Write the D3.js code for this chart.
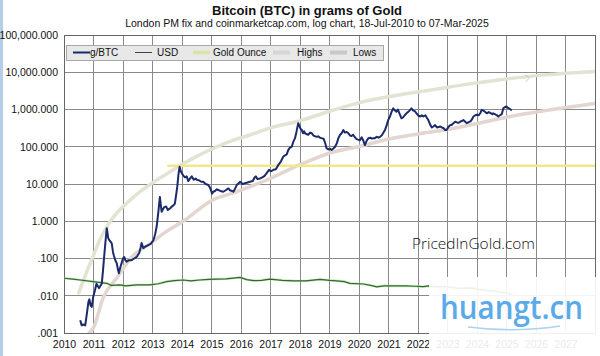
<!DOCTYPE html>
<html><head><meta charset="utf-8">
<script src="https://cdn.jsdelivr.net/npm/d3@7/dist/d3.min.js"></script>
<style>html,body{margin:0;padding:0;background:#fff;}svg{display:block;}</style>
</head><body>
<script>
// ---- data ----
const btcYears = [2010.55,2010.60,2010.65,2010.72,2010.78,2010.83,2010.86,2010.90,2010.94,2010.99,2011.05,2011.10,2011.15,2011.19,2011.24,2011.28,2011.32,2011.36,2011.40,2011.45,2011.48,2011.50,2011.55,2011.60,2011.62,2011.66,2011.69,2011.74,2011.79,2011.83,2011.86,2011.90,2011.95,2012.00,2012.04,2012.08,2012.12,2012.20,2012.29,2012.38,2012.46,2012.55,2012.60,2012.63,2012.69,2012.76,2012.86,2012.95,2013.03,2013.09,2013.14,2013.20,2013.25,2013.28,2013.31,2013.34,2013.40,2013.46,2013.52,2013.59,2013.66,2013.72,2013.76,2013.80,2013.84,2013.88,2013.92,2013.96,2014.04,2014.10,2014.16,2014.21,2014.27,2014.33,2014.40,2014.46,2014.50,2014.58,2014.65,2014.72,2014.80,2014.89,2014.95,2015.02,2015.06,2015.12,2015.18,2015.23,2015.30,2015.40,2015.48,2015.57,2015.62,2015.70,2015.74,2015.80,2015.86,2015.92,2015.97,2016.05,2016.14,2016.22,2016.30,2016.40,2016.46,2016.50,2016.56,2016.64,2016.72,2016.80,2016.87,2016.95,2017.02,2017.10,2017.18,2017.26,2017.35,2017.43,2017.48,2017.55,2017.60,2017.66,2017.72,2017.78,2017.83,2017.88,2017.94,2017.97,2018.02,2018.06,2018.10,2018.14,2018.17,2018.22,2018.28,2018.34,2018.40,2018.46,2018.52,2018.56,2018.62,2018.68,2018.73,2018.80,2018.86,2018.90,2018.96,2019.02,2019.07,2019.13,2019.19,2019.25,2019.30,2019.36,2019.41,2019.47,2019.52,2019.58,2019.64,2019.70,2019.75,2019.80,2019.86,2019.92,2019.97,2020.03,2020.09,2020.14,2020.20,2020.26,2020.32,2020.38,2020.44,2020.50,2020.54,2020.60,2020.66,2020.71,2020.77,2020.83,2020.88,2020.94,2020.99,2021.05,2021.10,2021.16,2021.21,2021.27,2021.32,2021.38,2021.44,2021.50,2021.55,2021.61,2021.66,2021.72,2021.78,2021.83,2021.89,2021.95,2022.02,2022.08,2022.13,2022.18,2022.25,2022.30,2022.35,2022.42,2022.47,2022.52,2022.58,2022.64,2022.70,2022.76,2022.81,2022.86,2022.92,2022.97,2023.03,2023.09,2023.15,2023.20,2023.26,2023.32,2023.38,2023.45,2023.50,2023.54,2023.60,2023.65,2023.72,2023.78,2023.84,2023.88,2023.94,2024.00,2024.06,2024.12,2024.16,2024.22,2024.28,2024.33,2024.40,2024.46,2024.52,2024.55,2024.62,2024.68,2024.72,2024.78,2024.84,2024.89,2024.94,2025.00,2025.05,2025.10,2025.14,2025.18];
const btcGrams = [0.0022,0.0016,0.0017,0.0016,0.0035,0.0070,0.0080,0.0055,0.0050,0.0093,0.014,0.021,0.018,0.016,0.019,0.021,0.045,0.11,0.25,0.65,0.45,0.35,0.30,0.27,0.25,0.15,0.12,0.09,0.074,0.05,0.04,0.055,0.074,0.10,0.11,0.09,0.082,0.09,0.09,0.10,0.11,0.14,0.20,0.26,0.19,0.21,0.23,0.25,0.31,0.45,0.71,1.8,4.5,2.8,1.8,2.0,2.4,2.5,2.0,2.2,2.5,2.7,3.0,5,8.5,18,29,22,17,15,16,12,14,16,13,14,13,12.5,11.5,11.5,10,9.4,8,5.5,6.2,6.5,7.2,6.9,6.5,6.2,6.8,7.6,6.8,6.5,6.2,7.5,9.5,10.5,11.5,10,10.5,11,11.5,12,15,16,13.5,14,15,16.5,19.5,24,22,24,25,32,40,54,58,62,81,95,100,140,170,250,430,380,300,280,230,260,230,220,210,240,230,200,190,185,190,175,170,165,120,91,85,88,82,90,100,125,170,210,230,280,240,250,230,200,195,210,180,160,155,150,180,150,110,145,170,175,165,170,170,185,175,185,200,240,280,380,520,650,850,1070,950,870,1000,750,580,620,700,790,850,950,1070,950,900,790,680,650,700,650,700,600,520,380,330,350,380,330,340,350,330,320,280,280,340,380,390,430,470,450,440,480,500,520,470,430,460,480,560,650,700,720,700,820,980,930,860,790,850,800,750,790,740,700,650,700,750,1070,1150,1200,1100,1050,1000,950];

const usdYears = [2010.00,2010.30,2010.55,2010.99,2011.45,2011.60,2011.90,2012.10,2012.46,2012.92,2013.20,2013.48,2013.75,2014.04,2014.30,2014.60,2014.90,2015.18,2015.50,2015.97,2016.20,2016.42,2016.70,2016.98,2017.40,2017.77,2018.20,2018.68,2019.00,2019.24,2019.50,2019.69,2020.15,2020.40,2020.60,2020.85,2021.16,2021.60,2021.90,2022.18,2022.35,2022.60,2022.90,2023.40,2023.80,2024.20,2024.60,2024.90,2025.18];
const usdGrams = [0.0295,0.028,0.0265,0.024,0.0216,0.019,0.0195,0.0185,0.0195,0.0197,0.021,0.024,0.0255,0.0265,0.025,0.0265,0.0275,0.028,0.0285,0.031,0.027,0.0255,0.026,0.028,0.026,0.0252,0.025,0.0275,0.026,0.0252,0.024,0.0216,0.0207,0.019,0.0174,0.0185,0.0183,0.0183,0.018,0.0175,0.0183,0.0175,0.0177,0.0158,0.0162,0.0143,0.0131,0.0122,0.0108];

const goldOunceYears = [2013.5, 2028];
const goldOunceGrams = [31.1035, 31.1035];

const highsYears = [2010.50,2010.75,2010.98,2011.20,2011.45,2011.80,2012.13,2012.55,2013.02,2013.50,2013.90,2014.50,2015.18,2015.75,2016.30,2017.00,2018.00,2019.00,2020.26,2021.40,2022.50,2023.70,2024.80,2026.30,2028.00];
const highsGrams = [0.012,0.04,0.11,0.3,0.71,1.7,3.1,6,11,19,30,55,100,150,207,320,500,900,1700,2500,3400,4800,6300,8500,10500];

const lowsYears = [2010.85,2011.00,2011.33,2011.79,2012.30,2012.92,2013.50,2014.04,2015.06,2015.74,2016.87,2018.00,2019.07,2020.20,2021.00,2022.00,2023.00,2024.00,2025.00,2026.50,2028.00];
const lowsGrams = [0.001,0.0014,0.009,0.03,0.11,0.25,0.55,1.0,3.8,5.8,12.8,33,70,110,160,220,290,420,620,980,1450];

const yearTicks = d3.range(2010, 2028);
const yTicks = [0.001,0.01,0.1,1,10,100,1000,10000,100000];

const title = "Bitcoin (BTC) in grams of Gold";
const subtitle = "London PM fix and coinmarketcap.com, log chart, 18-Jul-2010 to 07-Mar-2025";
const legendItems = [
  {name:"g/BTC", color:"#1b2a6b", w:2},
  {name:"USD", color:"#3a4a3a", w:1},
  {name:"Gold Ounce", color:"#dde3a8", w:3.5},
  {name:"Highs", color:"#d6d6d6", w:4},
  {name:"Lows", color:"#c8c8c8", w:4}
];

// ---- chart ----
const W = 600, H = 356;
const svg = d3.select("body").append("svg").attr("width", W).attr("height", H)
  .style("font-family", "'Liberation Sans', Arial, sans-serif");

svg.append("rect").attr("x",0).attr("y",0).attr("width",3).attr("height",H).attr("fill","#b5cde6");

const x = d3.scaleLinear().domain([2010, 2028]).range([64, 595]);
const y = d3.scaleLog().domain([0.001, 100000]).range([333, 35]);

svg.append("text").attr("x", 307).attr("y", 15).attr("text-anchor","middle")
  .attr("font-size", 13).attr("font-weight","bold").attr("fill","#111").text(title);
svg.append("text").attr("x", 307).attr("y", 27).attr("text-anchor","middle")
  .attr("font-size", 10.5).attr("fill","#111").text(subtitle);

// grid
const grid = svg.append("g");
grid.selectAll("line.v").data(d3.range(2011, 2028)).join("line")
  .attr("x1", d=>x(d)).attr("x2", d=>x(d)).attr("y1", y(100000)).attr("y2", y(0.001))
  .attr("stroke","#8a8a8a").attr("stroke-width",1).attr("shape-rendering","crispEdges");
grid.selectAll("line.h").data(yTicks.slice(1,-1)).join("line")
  .attr("y1", d=>y(d)).attr("y2", d=>y(d)).attr("x1", x(2010)).attr("x2", x(2028))
  .attr("stroke","#8a8a8a").attr("stroke-width",1).attr("shape-rendering","crispEdges");
svg.append("rect").attr("x", x(2010)).attr("y", y(100000))
  .attr("width", x(2028)-x(2010)).attr("height", y(0.001)-y(100000))
  .attr("fill","none").attr("stroke","#666").attr("shape-rendering","crispEdges");

// axes
const fmtY = d => d3.format(",.3f")(d).replace(/^0\./, ".");
const yAxis = d3.axisLeft(y).tickValues(yTicks).tickFormat(fmtY).tickSize(0).tickPadding(6);
const ya = svg.append("g").attr("transform", `translate(${x(2010)},0)`).call(yAxis);
ya.select(".domain").remove();
ya.selectAll("text").attr("font-size", 10.5).attr("fill","#111")
  .attr("font-family","'Liberation Sans', Arial, sans-serif");

const xAxis = d3.axisBottom(x).tickValues(yearTicks).tickFormat(d3.format("d")).tickSize(0).tickPadding(8);
const xa = svg.append("g").attr("transform", `translate(0,${y(0.001)})`).call(xAxis);
xa.select(".domain").remove();
xa.selectAll("text").attr("font-size", 10.5).attr("fill","#111")
  .attr("font-family","'Liberation Sans', Arial, sans-serif");

// clip
svg.append("clipPath").attr("id","plotclip").append("rect")
  .attr("x", x(2010)).attr("y", y(100000)).attr("width", x(2028)-x(2010)).attr("height", y(0.001)-y(100000));
const plot = svg.append("g").attr("clip-path","url(#plotclip)");

const zip = (xs, vs) => xs.map((t,i)=>[t, vs[i]]);
const smooth = d3.line().x(d=>x(d[0])).y(d=>y(d[1])).curve(d3.curveMonotoneX);
const straight = d3.line().x(d=>x(d[0])).y(d=>y(d[1]));

plot.append("path").attr("d", smooth(zip(highsYears, highsGrams)))
  .attr("fill","none").attr("stroke","#e3e3d3").attr("stroke-width",3.5).attr("stroke-linecap","round");
plot.append("path").attr("d", smooth(zip(lowsYears, lowsGrams)))
  .attr("fill","none").attr("stroke","#e3d6d0").attr("stroke-width",3.5).attr("stroke-linecap","round");
plot.append("path").attr("d", straight(zip(goldOunceYears, goldOunceGrams)))
  .attr("fill","none").attr("stroke","#efe88a").attr("stroke-width",2.5);
plot.append("path").attr("d", straight(zip(usdYears, usdGrams)))
  .attr("fill","none").attr("stroke","#a9d79a").attr("stroke-width",2.5).attr("opacity",0.6);
plot.append("path").attr("d", straight(zip(usdYears, usdGrams)))
  .attr("fill","none").attr("stroke","#2f6a2a").attr("stroke-width",1.2);
plot.append("path").attr("d", straight(zip(btcYears, btcGrams)))
  .attr("fill","none").attr("stroke","#1b2a6b").attr("stroke-width",2).attr("stroke-linejoin","round");

// small arrow on highs line
const ax = x(2025.75), ayv = y(6900);
svg.append("path").attr("d", `M${ax-4},${ayv-3} L${ax+1},${ayv-1} L${ax-3},${ayv+4}`)
  .attr("fill","none").attr("stroke","#cfcfcf").attr("stroke-width",1);

// legend
const lg = svg.append("g");
lg.append("rect").attr("x", 66).attr("y", 45).attr("width", 317).attr("height", 15)
  .attr("fill","#e8e8e8").attr("stroke","#a8a8a8").attr("shape-rendering","crispEdges");
const lgPos = [[73,90],[135,157],[193,213],[273,297],[330,353]];
legendItems.forEach((it,i)=>{
  const [lx, tx] = lgPos[i];
  lg.append("line").attr("x1", lx).attr("x2", lx+17).attr("y1", 52.5).attr("y2", 52.5)
    .attr("stroke", it.color).attr("stroke-width", it.w);
  lg.append("text").attr("x", tx).attr("y", 56).attr("font-size", 10).attr("fill","#111").text(it.name);
});

// brand text
svg.append("text").attr("x", 412).attr("y", 249).attr("font-size", 15)
  .attr("font-family","'Open Sans', sans-serif").attr("font-weight",300)
  .attr("textLength", 123).attr("lengthAdjust","spacingAndGlyphs").attr("fill","#111").text("PricedInGold.com");

// watermark overlay
svg.append("rect").attr("x", 429).attr("y", 277).attr("width", 171).attr("height", 79)
  .attr("fill","#fff").attr("opacity",0.9);
svg.append("text").attr("x", 440).attr("y", 319).attr("font-size", 33)
  .attr("font-family","'Open Sans', sans-serif").attr("font-weight",600)
  .attr("textLength", 143).attr("lengthAdjust","spacingAndGlyphs").attr("fill","#5aaae9").text("huangt.cn");
svg.append("path").attr("d","M468,327 Q515,333 560,326").attr("fill","none")
  .attr("stroke","#a9d2f3").attr("stroke-width",1.5);
</script>
</body></html>
